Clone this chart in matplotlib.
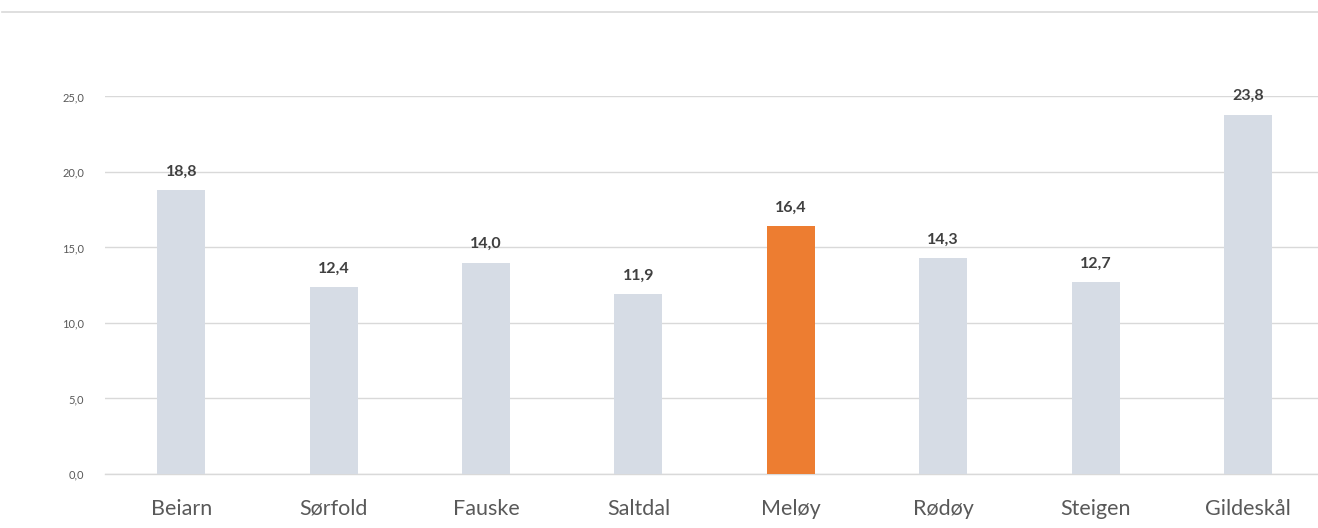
import matplotlib
matplotlib.use("Agg")
import matplotlib.pyplot as plt
from matplotlib.lines import Line2D

categories = ["Beiarn", "Sørfold", "Fauske", "Saltdal", "Meløy", "Rødøy", "Steigen", "Gildeskål"]
values = [18.8, 12.4, 14.0, 11.9, 16.4, 14.3, 12.7, 23.8]
highlight = "Meløy"
yticks = [0, 5, 10, 15, 20, 25]

plt.rcParams['font.family'] = ['Lato', 'DejaVu Sans']

fig = plt.figure(figsize=(13.18, 5.28), dpi=100)
ax = fig.add_axes([0.0797, 0.1023, 0.9203, 0.715])

colors = ["#ED7D31" if c == highlight else "#D6DCE5" for c in categories]
x = list(range(len(categories)))
ax.bar(x, values, width=0.315, color=colors, zorder=3)

for xi, v in zip(x, values):
    ax.text(xi, v + 0.75, f"{v:.1f}".replace(".", ","), ha="center", va="bottom",
            fontsize=11.5, fontweight="bold", color="#404040", zorder=4, clip_on=False)

ax.set_xlim(-0.5, 7.46)
ax.set_ylim(0, 25)
ax.set_yticks(yticks)
ax.set_yticklabels([f"{t:.1f}".replace(".", ",") for t in yticks], fontsize=8, color="#595959")
ax.set_xticks(x)
ax.set_xticklabels(categories, fontsize=15.5, color="#595959")
for lbl in ax.get_xticklabels():
    lbl.set_verticalalignment("baseline")
ax.tick_params(axis="both", length=0)
ax.tick_params(axis="y", pad=15)
ax.tick_params(axis="x", pad=29.5)
ax.grid(axis="y", color="#D9D9D9", linewidth=1, zorder=0)
ax.axhline(0, color="#D9D9D9", linewidth=1, zorder=2, clip_on=False)
for s in ax.spines.values():
    s.set_visible(False)

fig.add_artist(Line2D([0.0015, 1.0], [1 - 12 / 528, 1 - 12 / 528], transform=fig.transFigure,
                      color="#D9D9D9", linewidth=1.2))

fig.savefig("out.png", dpi=100, facecolor="white")
